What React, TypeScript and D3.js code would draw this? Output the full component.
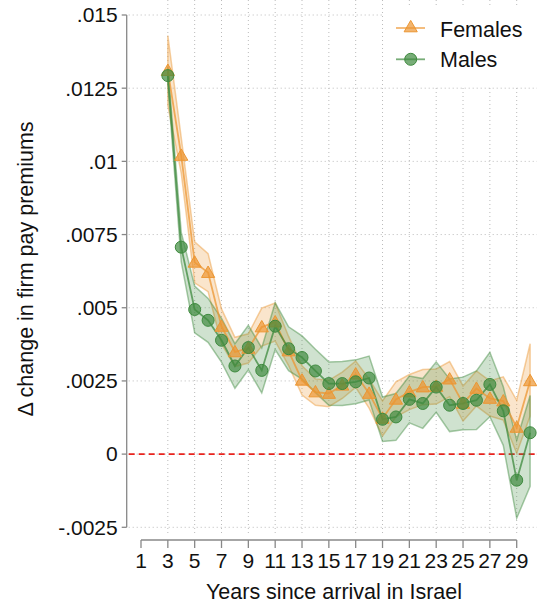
import React from 'react'
import * as d3 from 'd3'

const years = [3, 4, 5, 6, 7, 8, 9, 10, 11, 12, 13, 14, 15, 16, 17, 18, 19, 20, 21, 22, 23, 24, 25, 26, 27, 28, 29, 30]

const females = [.0131, .0102, .00655, .0062, .00436, .00349, .00361, .00434, .00451, .00352, .00252, .00212, .00207, .00235, .00273, .00207, .00122, .00187, .00212, .00229, .00231, .00256, .00173, .00224, .0019, .00181, .00091, .0025]
const femalesHi = [.0143, .0108, .00725, .00685, .00496, .00399, .00411, .00499, .00516, .00402, .00302, .00257, .00252, .0028, .00318, .00257, .00182, .00247, .00272, .00289, .00291, .00316, .00233, .00284, .0025, .00264, .00184, .00377]
const femalesLo = [.0119, .0096, .00585, .00555, .00376, .00299, .00311, .00369, .00386, .00302, .00202, .00167, .00162, .0019, .00228, .00157, .00062, .00127, .00152, .00169, .00171, .00196, .00113, .00164, .0013, .00116, .00003, .0013]

const males = [.01293, .00707, .00494, .00457, .00389, .00301, .00364, .00286, .00437, .0036, .0033, .00284, .00241, .00241, .00247, .0026, .00119, .00127, .00187, .00173, .00229, .00167, .00173, .00184, .00238, .00148, -.00089, .00073]
const malesHi = [.01323, .00757, .00574, .00532, .00464, .00377, .0044, .00363, .00517, .00435, .00404, .00358, .00315, .00316, .00322, .00335, .00195, .00207, .00267, .00258, .00315, .00257, .00263, .00284, .00348, .0023, .00048, .002]
const malesLo = [.01263, .00657, .00414, .00382, .00314, .00225, .00288, .00209, .00357, .00285, .00256, .0021, .00167, .00166, .00172, .00185, .00043, .00047, .00107, .00088, .00143, .00077, .00083, .00084, .00128, .0003, -.00219, -.0011]

const yTicks = [-.0025, 0, .0025, .005, .0075, .01, .0125, .015]
const yTickLabels = ['-.0025', '0', '.0025', '.005', '.0075', '.01', '.0125', '.015']
const xTicks = [1, 3, 5, 7, 9, 11, 13, 15, 17, 19, 21, 23, 25, 27, 29]

const ORANGE = 'rgb(236,150,50)'
const GREEN = 'rgb(62,138,62)'
const FONT = '"Liberation Sans", Arial, Helvetica, sans-serif'

const App: React.FC = () => {
  const width = 537
  const height = 610

  const x = d3.scaleLinear().domain([1, 29]).range([141, 516.7])
  const y = d3.scaleLinear().domain([-0.0025, 0.015]).range([527.3, 15])

  const axisX = 126.7
  const axisY = 540
  const plotRight = 537
  const plotTop = 0
  const plotBottom = 535

  const band = (hi: number[], lo: number[]) =>
    d3.area<number>()
      .x((_, i) => x(years[i]))
      .y0((_, i) => y(lo[i]))
      .y1((_, i) => y(hi[i]))(years) || ''

  const line = (vals: number[]) =>
    d3.line<number>()
      .x((_, i) => x(years[i]))
      .y((_, i) => y(vals[i]))(years) || ''

  const tri = d3.symbol().type(d3.symbolTriangle).size(75)()

  return (
    <svg width={width} height={height} style={{ position: 'absolute', left: 0, top: 0, background: '#fff' }}>
      {/* grid */}
      {yTicks.map(t => (
        <line key={'gy' + t} x1={axisX + 2} x2={plotRight} y1={y(t)} y2={y(t)}
          stroke="#bbb" strokeWidth={1} strokeDasharray="1,3" />
      ))}
      {xTicks.slice(1).map(t => (
        <line key={'gx' + t} x1={x(t)} x2={x(t)} y1={plotTop} y2={plotBottom}
          stroke="#bbb" strokeWidth={1} strokeDasharray="1,3" />
      ))}

      {/* zero line */}
      <line x1={axisX + 2} x2={plotRight} y1={y(0)} y2={y(0)} stroke="#e8231e" strokeWidth={1.6} strokeDasharray="6,4" />

      {/* confidence bands */}
      <path d={band(femalesHi, femalesLo)} fill={ORANGE} fillOpacity={0.25} stroke={ORANGE} strokeOpacity={0.45} strokeWidth={1.5} />
      <path d={band(malesHi, malesLo)} fill={GREEN} fillOpacity={0.25} stroke={GREEN} strokeOpacity={0.45} strokeWidth={1.5} />

      {/* lines */}
      <path d={line(females)} fill="none" stroke={ORANGE} strokeOpacity={0.75} strokeWidth={1.8} />
      <path d={line(males)} fill="none" stroke={GREEN} strokeOpacity={0.75} strokeWidth={1.8} />

      {/* markers */}
      {females.map((v, i) => (
        <path key={'f' + i} d={tri} transform={`translate(${x(years[i])},${y(v) + 1})`}
          fill={ORANGE} fillOpacity={0.7} stroke={ORANGE} strokeWidth={1} />
      ))}
      {males.map((v, i) => (
        <circle key={'m' + i} cx={x(years[i])} cy={y(v)} r={6}
          fill={GREEN} fillOpacity={0.7} stroke={GREEN} strokeWidth={1} />
      ))}

      {/* y axis */}
      <line x1={axisX} x2={axisX} y1={y(0.015)} y2={y(-0.0025)} stroke="#888" strokeWidth={1.3} />
      {yTicks.map((t, i) => (
        <g key={'yt' + t}>
          <line x1={axisX - 5} x2={axisX} y1={y(t)} y2={y(t)} stroke="#888" strokeWidth={1.3} />
          <text x={axisX - 9} y={y(t)} dy="0.35em" textAnchor="end" fontFamily={FONT} fontSize={21} fill="#111">
            {yTickLabels[i]}
          </text>
        </g>
      ))}

      {/* x axis */}
      <line x1={x(1)} x2={x(29)} y1={axisY} y2={axisY} stroke="#888" strokeWidth={1.3} />
      {xTicks.map(t => (
        <g key={'xt' + t}>
          <line x1={x(t)} x2={x(t)} y1={axisY} y2={axisY + 8} stroke="#888" strokeWidth={1.3} />
          <text x={x(t)} y={568} textAnchor="middle" fontFamily={FONT} fontSize={21} fill="#111">{t}</text>
        </g>
      ))}

      {/* axis titles */}
      <text x={334} y={599} textAnchor="middle" fontFamily={FONT} fontSize={21.5} fill="#111">
        Years since arrival in Israel
      </text>
      <text transform="translate(33,269) rotate(-90)" textAnchor="middle" fontFamily={FONT} fontSize={21.5} fill="#111">
        Δ change in firm pay premiums
      </text>

      {/* legend */}
      <rect x={384} y={6} width={153} height={81} fill="#fff" />
      <line x1={396} x2={425} y1={28} y2={28} stroke={ORANGE} strokeOpacity={0.7} strokeWidth={1.8} />
      <path d={tri} transform="translate(410.7,28)" fill={ORANGE} fillOpacity={0.7} stroke={ORANGE} strokeWidth={1} />
      <text x={440} y={36.5} fontFamily={FONT} fontSize={21.5} fill="#111">Females</text>
      <line x1={396} x2={425} y1={59.3} y2={59.3} stroke={GREEN} strokeOpacity={0.7} strokeWidth={1.8} />
      <circle cx={410.7} cy={59.3} r={6} fill={GREEN} fillOpacity={0.7} stroke={GREEN} strokeWidth={1} />
      <text x={440} y={67} fontFamily={FONT} fontSize={21.5} fill="#111">Males</text>
    </svg>
  )
}

export default App
